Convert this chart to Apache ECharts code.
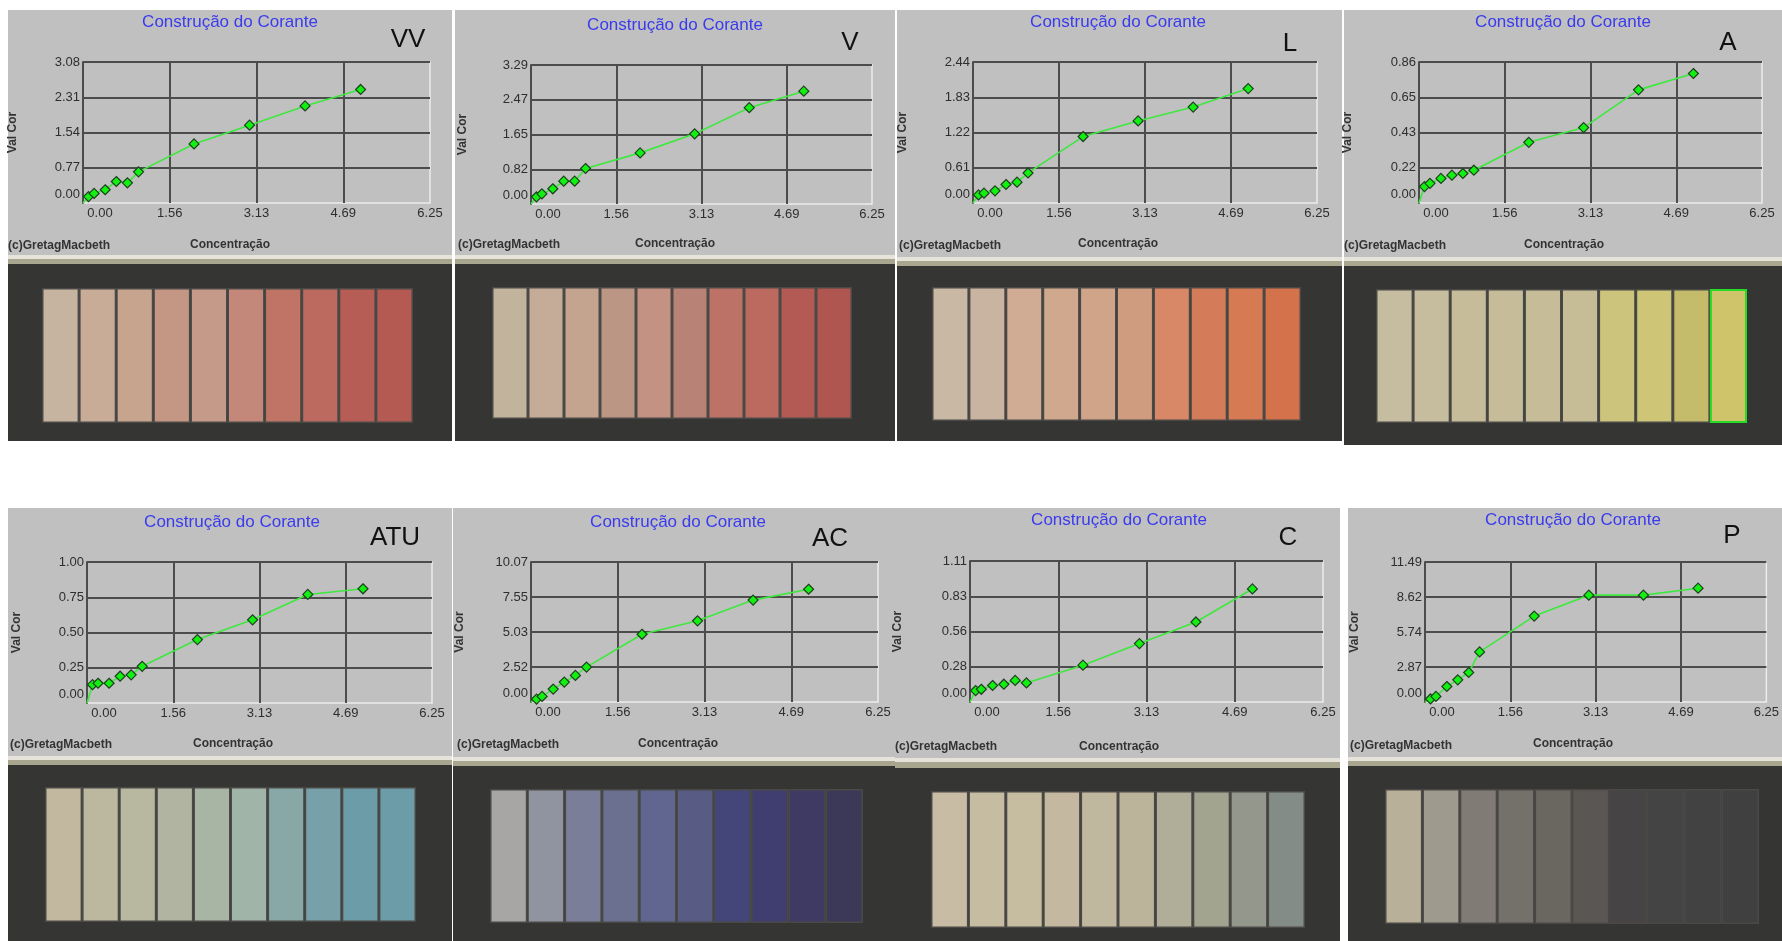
<!DOCTYPE html>
<html><head><meta charset="utf-8">
<script src="https://cdn.jsdelivr.net/npm/echarts@6/dist/echarts.min.js"></script>
<style>html,body{margin:0;padding:0;background:#fff}#c{width:1782px;height:941px}</style>
</head><body><div id="c"></div>
<script>
// ---------------- DATA ----------------
const chartTitle = 'Construção do Corante';
const xAxisName = 'Concentração';
const yAxisName = 'Val Cor';
const copyright = '(c)GretagMacbeth';
const concentrations = [0.1, 0.2, 0.4, 0.6, 0.8, 1.0, 2.0, 3.0, 4.0, 5.0];
const xMax = 6.25;
const xTickLabels = ['0.00', '1.56', '3.13', '4.69', '6.25'];
const panelNames = ['VV', 'V', 'L', 'A', 'ATU', 'AC', 'C', 'P'];

const valuesVV  = [0.14, 0.21, 0.29, 0.47, 0.44, 0.68, 1.29, 1.70, 2.12, 2.48];
const valuesV   = [0.17, 0.24, 0.36, 0.54, 0.54, 0.84, 1.21, 1.66, 2.28, 2.67];
const valuesL   = [0.14, 0.17, 0.21, 0.32, 0.36, 0.52, 1.15, 1.42, 1.66, 1.98];
const valuesA   = [0.10, 0.12, 0.15, 0.17, 0.18, 0.20, 0.37, 0.46, 0.69, 0.79];
const valuesATU = [0.13, 0.14, 0.14, 0.19, 0.20, 0.26, 0.45, 0.59, 0.77, 0.81];
const valuesAC  = [0.21, 0.40, 0.93, 1.43, 1.91, 2.51, 4.87, 5.84, 7.33, 8.11];
const valuesC   = [0.09, 0.10, 0.13, 0.14, 0.17, 0.15, 0.29, 0.46, 0.63, 0.89];
const valuesP   = [0.25, 0.46, 1.27, 1.82, 2.42, 4.11, 7.05, 8.77, 8.77, 9.34];

const yMaxVV = 3.08,  yTicksVV  = ['0.00', '0.77', '1.54', '2.31', '3.08'];
const yMaxV  = 3.29,  yTicksV   = ['0.00', '0.82', '1.65', '2.47', '3.29'];
const yMaxL  = 2.44,  yTicksL   = ['0.00', '0.61', '1.22', '1.83', '2.44'];
const yMaxA  = 0.86,  yTicksA   = ['0.00', '0.22', '0.43', '0.65', '0.86'];
const yMaxATU = 1.00, yTicksATU = ['0.00', '0.25', '0.50', '0.75', '1.00'];
const yMaxAC = 10.07, yTicksAC  = ['0.00', '2.52', '5.03', '7.55', '10.07'];
const yMaxC  = 1.11,  yTicksC   = ['0.00', '0.28', '0.56', '0.83', '1.11'];
const yMaxP  = 11.49, yTicksP   = ['0.00', '2.87', '5.74', '8.62', '11.49'];

const swatchVV  = ['#c6b4a0', '#c8ac98', '#c6a48e', '#c49684', '#c69a88', '#c4887a', '#c07466', '#bc6a60', '#b65e56', '#b45a52'];
const swatchV   = ['#c2b49c', '#c4ac98', '#c4a48e', '#bc9684', '#c49282', '#b88276', '#bc7266', '#bc6a60', '#b45a54', '#b05650'];
const swatchL   = ['#c8b8a4', '#c8b4a0', '#d0ac94', '#d0a88e', '#d0a488', '#d09c80', '#d88866', '#d47c5a', '#d67a54', '#d4724c'];
const swatchA   = ['#c6bca0', '#c6bc9e', '#c6bc9a', '#c6bc9a', '#c6bc98', '#c6bc96', '#ccc47c', '#cec676', '#c4bc6a', '#d0c46a'];
const swatchATU = ['#c2b8a0', '#bcb8a0', '#b8b8a0', '#b0b4a0', '#a8b4a4', '#a0b4a8', '#88a8a8', '#78a0a8', '#6c9ca8', '#6c9ca8'];
const swatchAC  = ['#a8a6a4', '#9094a0', '#7a7e98', '#6c7090', '#606690', '#585c84', '#44467a', '#403e70', '#3e3a64', '#3c3858'];
const swatchC   = ['#c8bca4', '#c6bca2', '#c6bca0', '#c4b8a0', '#c0b89e', '#bcb49a', '#b0ae98', '#a2a490', '#94988c', '#848c88'];
const swatchP   = ['#b8b098', '#9e9a8e', '#807b74', '#74706a', '#6a6660', '#5a5654', '#464444', '#444444', '#424242', '#404040'];

const allValues = [valuesVV, valuesV, valuesL, valuesA, valuesATU, valuesAC, valuesC, valuesP];
const allYMax = [yMaxVV, yMaxV, yMaxL, yMaxA, yMaxATU, yMaxAC, yMaxC, yMaxP];
const allYTicks = [yTicksVV, yTicksV, yTicksL, yTicksA, yTicksATU, yTicksAC, yTicksC, yTicksP];
const allSwatches = [swatchVV, swatchV, swatchL, swatchA, swatchATU, swatchAC, swatchC, swatchP];
const selectedSwatch = [null, null, null, 9, null, null, null, null];

// ---------------- LAYOUT ----------------
const layout = [
  {gray:[8,10,452,255], plot:[83,62,430,203], title:[230,22], big:[408,40], vc:13, conc:[230,245], copy:[8,246], dark:[8,264,452,441], sw:[42,288,413,423]},
  {gray:[455,10,895,255], plot:[531,65,872,204], title:[675,25], big:[850,43], vc:463, conc:[675,244], copy:[458,245], dark:[455,264,895,441], sw:[492,287,852,419]},
  {gray:[897,10,1342,257], plot:[973,62,1317,203], title:[1118,22], big:[1290,44], vc:903, conc:[1118,244], copy:[899,246], dark:[897,266,1342,441], sw:[932,287,1301,421]},
  {gray:[1344,10,1782,257], plot:[1419,62,1762,203], title:[1563,22], big:[1728,43], vc:1348, conc:[1564,245], copy:[1344,246], dark:[1344,266,1782,445], sw:[1376,289,1747,423]},
  {gray:[8,508,452,756], plot:[87,562,432,703], title:[232,522], big:[395,538], vc:17, conc:[233,744], copy:[10,745], dark:[8,765,452,941], sw:[45,787,416,922]},
  {gray:[453,508,895,757], plot:[531,562,878,702], title:[678,522], big:[830,539], vc:460, conc:[678,744], copy:[457,745], dark:[453,766,895,941], sw:[490,789,863,923]},
  {gray:[895,508,1340,758], plot:[970,561,1323,702], title:[1119,520], big:[1288,538], vc:898, conc:[1119,747], copy:[895,747], dark:[895,768,1340,941], sw:[931,791,1305,928]},
  {gray:[1348,508,1782,757], plot:[1425,562,1775,702], title:[1573,520], big:[1732,536], vc:1355, conc:[1573,744], copy:[1350,746], dark:[1348,766,1782,941], sw:[1385,789,1759,924]}
];

const FONT = '"Liberation Sans", Arial, sans-serif';
const grids = [], xAxes = [], yAxes = [], series = [], graphics = [];

function rect(b, color, z) {
  return {type:'rect', z: z, silent:true, shape:{x:b[0], y:b[1], width:b[2]-b[0], height:b[3]-b[1]}, style:{fill:color}};
}
function text(x, y, str, style, extra) {
  return Object.assign({type:'text', x:x, y:y, z:100, silent:true,
    style:Object.assign({text:str, textAlign:'center', textVerticalAlign:'middle', fontFamily:FONT}, style)}, extra || {});
}

layout.forEach((L, i) => {
  graphics.push(rect(L.gray, '#c0c0c0', -100));
  graphics.push(rect([L.gray[0], L.gray[3], L.gray[2], L.gray[3] + 4], '#e6e4da', -100));
  graphics.push(rect([L.gray[0], L.gray[3] + 4, L.gray[2], L.dark[1]], '#a9a690', -100));
  graphics.push(rect(L.dark, '#353533', -100));
  graphics.push(text(L.title[0], L.title[1], chartTitle, {fontSize:17, fill:'#3a3aee'}));
  graphics.push(text(L.big[0], L.big[1], panelNames[i], {fontSize:26, fill:'#111'}));
  graphics.push(text(L.vc, (L.plot[1] + L.plot[3]) / 2, yAxisName, {fontSize:12, fontWeight:'bold', fill:'#333'}, {rotation: Math.PI / 2}));
  graphics.push(text(L.conc[0], L.conc[1], xAxisName, {fontSize:12, fontWeight:'bold', fill:'#333'}));
  graphics.push(text(L.copy[0], L.copy[1], copyright, {fontSize:12, fontWeight:'bold', fill:'#333', textAlign:'left'}));

  const gi = grids.length;
  grids.push({left:L.plot[0], top:L.plot[1], width:L.plot[2]-L.plot[0], height:L.plot[3]-L.plot[1],
    show:true, backgroundColor:'transparent', borderColor:'#ececec', borderWidth:1.5, z:0});
  const yMax = allYMax[i], yTicks = allYTicks[i], yInt = yMax / 4;
  xAxes.push({type:'value', gridIndex:gi, min:0, max:xMax, interval:xMax/4, z:1,
    axisLine:{show:false}, axisTick:{show:false},
    splitLine:{show:true, showMinLine:false, showMaxLine:false, lineStyle:{color:'#4c4c4c', width:2}},
    axisLabel:{margin:4, color:'#2e2e2e', fontSize:13, fontFamily:FONT,
      formatter:(v) => { const k = Math.round(v / (xMax/4)); const s = xTickLabels[k]; return k === 0 ? '{o|' + s + '}' : s; },
      rich:{o:{padding:[0,0,0,34], fontSize:13, color:'#2e2e2e', fontFamily:FONT}}}
  });
  yAxes.push({type:'value', gridIndex:gi, min:0, max:yMax, interval:yInt, z:1,
    axisLine:{show:true, lineStyle:{color:'#4c4c4c', width:2}}, axisTick:{show:false},
    splitLine:{show:true, showMinLine:false, showMaxLine:true, lineStyle:{color:'#4c4c4c', width:2}},
    axisLabel:{margin:3, color:'#2e2e2e', fontSize:13, fontFamily:FONT,
      formatter:(v) => { const k = Math.round(v / yInt); const s = yTicks[k]; return k === 0 ? '{o|' + s + '}' : s; },
      rich:{o:{padding:[0,0,18,0], fontSize:13, color:'#2e2e2e', fontFamily:FONT}}}
  });
  const vals = allValues[i];
  const data = [{value:[0,0], symbol:'none'}].concat(concentrations.map((c, k) => [c, vals[k]]));
  series.push({type:'line', xAxisIndex:gi, yAxisIndex:gi, data:data, z:5,
    symbol:'diamond', symbolSize:10, showAllSymbol:true, animation:false,
    lineStyle:{color:'#3ee83e', width:1.6},
    itemStyle:{color:'#12f012', borderColor:'#1d3f1d', borderWidth:1.2}});

  const si = grids.length;
  grids.push({left:L.sw[0], top:L.sw[1], width:L.sw[2]-L.sw[0], height:L.sw[3]-L.sw[1], show:false});
  xAxes.push({type:'category', gridIndex:si, show:false, data:allSwatches[i].map((_, k) => String(k + 1))});
  yAxes.push({type:'value', gridIndex:si, show:false, min:0, max:1});
  series.push({type:'bar', xAxisIndex:si, yAxisIndex:si, barCategoryGap:'0%', animation:false, z:3,
    data:allSwatches[i].map((col, k) => ({value:1, itemStyle:{color:col,
      borderColor: selectedSwatch[i] === k ? '#22dd22' : '#4a4946', borderWidth: selectedSwatch[i] === k ? 2 : 1.5}}))});
});

const chart = echarts.init(document.getElementById('c'), null, {renderer:'canvas'});
chart.setOption({
  backgroundColor:'#ffffff',
  animation:false,
  grid:grids, xAxis:xAxes, yAxis:yAxes, series:series,
  graphic:{elements:graphics}
});
</script></body></html>
